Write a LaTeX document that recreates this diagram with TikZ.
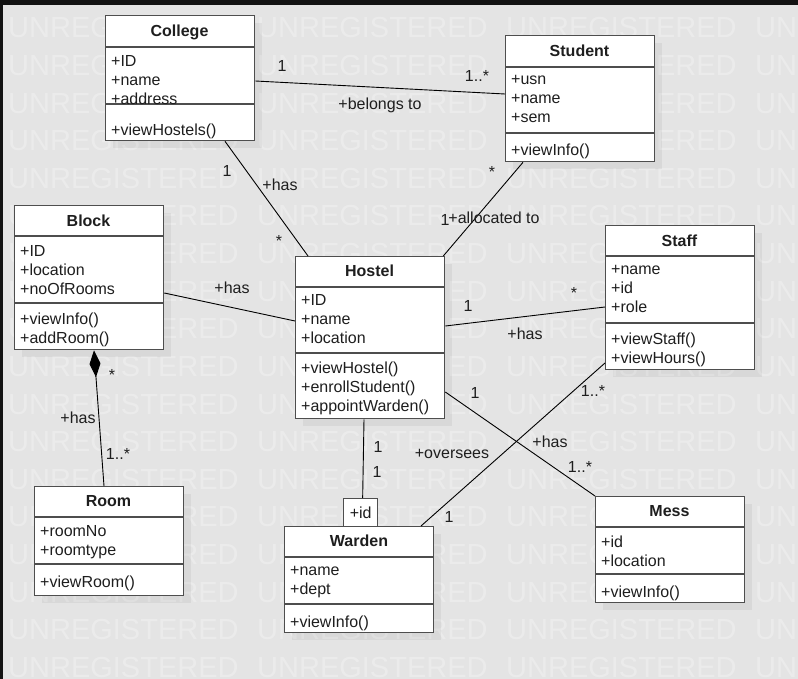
\documentclass[tikz,border=0pt]{standalone}
\usepackage{fontspec}
\setmainfont{Liberation Sans}
\usetikzlibrary{arrows.meta,shadows}
\definecolor{bggray}{HTML}{E4E4E4}
\definecolor{boxgray}{HTML}{4E4E4E}
\definecolor{inkgray}{HTML}{1E1E1E}

\begin{document}
\begin{tikzpicture}[x=1pt,y=-1pt,
  cls/.style={draw=boxgray,line width=1.3pt,fill=white,anchor=north west,minimum width=149pt,inner sep=0pt,
    drop shadow={shadow xshift=7pt,shadow yshift=-7pt,fill=black,opacity=0.05}},
  qual/.style={draw=boxgray,line width=1.3pt,fill=white,anchor=north west,minimum width=34pt,minimum height=28pt,inner sep=0pt,font=\fontsize{16}{19}\selectfont,text=inkgray},
  sep/.style={draw=boxgray,line width=1.3pt},
  title/.style={font=\bfseries\fontsize{16}{19}\selectfont,text=inkgray,inner sep=0pt,text height=11.5pt,text depth=0pt},
  attr/.style={font=\fontsize{16}{19}\selectfont,text=inkgray,align=left,anchor=north west,inner sep=0pt,execute at begin node=\strut},
  lbl/.style={font=\fontsize{16}{19}\selectfont,text=inkgray,inner sep=0pt,text height=11pt,text depth=0pt},
  assoc/.style={draw=black,line width=0.9pt},
  wmark/.style={anchor=west,inner sep=0pt,text=white,opacity=0.28,font=\fontsize{29}{29}\selectfont,text height=20pt,text depth=0pt}]
\useasboundingbox (0,0) rectangle (798,679);
\fill [bggray] (0,0) rectangle (798,679);
\begin{scope}
\clip (0,0) rectangle (798,679);
\foreach \r in {0,...,17}
  \foreach \c in {0,...,3}
    \node [wmark] (wm-\r-\c) at (8+249*\c,28+37.6*\r) {UNREGISTERED};
\end{scope}
\fill [black!93] (0,0) rectangle (798,5);
\fill [black!93] (0,0) rectangle (2.5,679);
\node [cls,minimum height=125pt] (college) at (105,15) {};
\draw [sep] (105,47) -- (254,47);
\draw [sep] (105,104) -- (254,104);
\node [title] (college-t) at (179.5,31) {College};
\node [attr] (college-a) at (111,55.5) {+ID\\+name\\+address};
\node [attr] (college-o) at (111,122.5) {+viewHostels()};
\node [cls,minimum height=126pt] (student) at (505,35) {};
\draw [sep] (505,67) -- (654,67);
\draw [sep] (505,133) -- (654,133);
\node [title] (student-t) at (579.5,51) {Student};
\node [attr] (student-a) at (511,75.5) {+usn\\+name\\+sem};
\node [attr] (student-o) at (511,142.5) {+viewInfo()};
\node [cls,minimum height=144pt] (block) at (14,205) {};
\draw [sep] (14,236) -- (163,236);
\draw [sep] (14,303) -- (163,303);
\node [title] (block-t) at (88.5,221) {Block};
\node [attr] (block-a) at (20,245.5) {+ID\\+location\\+noOfRooms};
\node [attr] (block-o) at (20,312.5) {+viewInfo()\\+addRoom()};
\node [cls,minimum height=162pt] (hostel) at (295,256) {};
\draw [sep] (295,287) -- (444,287);
\draw [sep] (295,353) -- (444,353);
\node [title] (hostel-t) at (369.5,271) {Hostel};
\node [attr] (hostel-a) at (301,294.5) {+ID\\+name\\+location};
\node [attr] (hostel-o) at (301,361.5) {+viewHostel()\\+enrollStudent()\\+appointWarden()};
\node [cls,minimum height=144pt] (staff) at (605,225) {};
\draw [sep] (605,256) -- (754,256);
\draw [sep] (605,323) -- (754,323);
\node [title] (staff-t) at (679.5,241) {Staff};
\node [attr] (staff-a) at (611,265.5) {+name\\+id\\+role};
\node [attr] (staff-o) at (611,332.5) {+viewStaff()\\+viewHours()};
\node [cls,minimum height=109pt] (room) at (34,486) {};
\draw [sep] (34,517) -- (183,517);
\draw [sep] (34,564) -- (183,564);
\node [title] (room-t) at (108.5,501) {Room};
\node [attr] (room-a) at (40,525.5) {+roomNo\\+roomtype};
\node [attr] (room-o) at (40,573.5) {+viewRoom()};
\node [cls,minimum height=106pt] (warden) at (284,526) {};
\draw [sep] (284,557) -- (434,557);
\draw [sep] (284,604) -- (434,604);
\node [title] (warden-t) at (359,541) {Warden};
\node [attr] (warden-a) at (290,566.5) {+name\\+dept};
\node [attr] (warden-o) at (290,613.5) {+viewInfo()};
\node [qual] (wardenid) at (343,498) {+id};
\node [cls,minimum height=106pt] (mess) at (595,496) {};
\draw [sep] (595,527) -- (744,527);
\draw [sep] (595,574) -- (744,574);
\node [title] (mess-t) at (669.5,511) {Mess};
\node [attr] (mess-a) at (601,535.5) {+id\\+location};
\node [attr] (mess-o) at (601,583.5) {+viewInfo()};
\draw [assoc] ([yshift=-66pt]college.north east) -- ([yshift=-59pt]student.north west);
\draw [assoc] ([xshift=120pt]college.south west) -- ([xshift=13pt]hostel.north west);
\draw [assoc] ([xshift=18pt]student.south west) -- ([xshift=-2pt]hostel.north east);
\draw [assoc] ([yshift=-88pt]block.north east) -- ([yshift=-65pt]hostel.north west);
\draw [assoc] ([yshift=-70pt]hostel.north east) -- ([yshift=-82pt]staff.north west);
\draw [assoc] ([yshift=-136pt]hostel.north east) -- (mess.north west);
\draw [assoc] ([yshift=-138pt]staff.north west) -- ([xshift=137pt]warden.north west);
\draw [assoc] ([xshift=69pt]hostel.south west) -- ([xshift=2pt]wardenid.north);
\draw [assoc,{Diamond[length=27pt,width=11pt]}-] ([xshift=80pt]block.south west) -- ([xshift=70pt]room.north west);
\node [lbl] (cs-1) at (282,66) {1};
\node [lbl] (cs-n) at (477,76) {1..*};
\node [lbl] (cs-r) at (380,104) {+belongs to};
\node [lbl] (ch-1) at (227,171) {1};
\node [lbl] (ch-r) at (280,185) {+has};
\node [lbl] (ch-n) at (279,241.4) {*};
\node [lbl] (sh-n) at (492,172.4) {*};
\node [lbl] (sh-1) at (445,220) {1};
\node [lbl] (sh-r) at (494,218) {+allocated to};
\node [lbl] (bh-r) at (232,288) {+has};
\node [lbl] (hs-1) at (468,306) {1};
\node [lbl] (hs-n) at (574,293.4) {*};
\node [lbl] (hs-r) at (525,334) {+has};
\node [lbl] (hm-1) at (475,393) {1};
\node [lbl] (hm-r) at (550,442) {+has};
\node [lbl] (hm-n) at (580,467) {1..*};
\node [lbl] (sw-n) at (593,391) {1..*};
\node [lbl] (sw-1) at (449,517) {1};
\node [lbl] (sw-r) at (452,453) {+oversees};
\node [lbl] (hw-1) at (378,447) {1};
\node [lbl] (hw-2) at (377,472) {1};
\node [lbl] (br-n) at (112,375.4) {*};
\node [lbl] (br-r) at (78,418) {+has};
\node [lbl] (br-1) at (118,454) {1..*};
\end{tikzpicture}
\end{document}
